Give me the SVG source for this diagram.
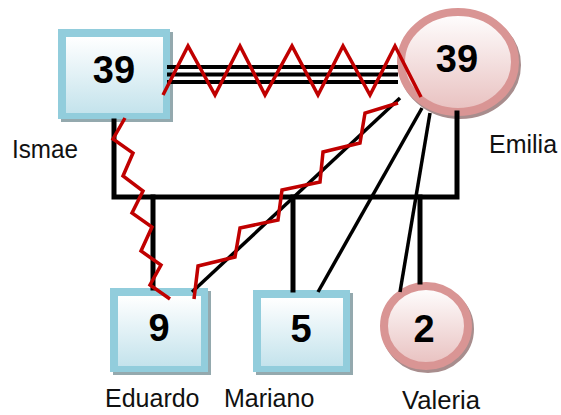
<svg xmlns="http://www.w3.org/2000/svg" width="561" height="415" viewBox="0 0 561 415">
  <defs>
    <linearGradient id="boxFill" x1="0" y1="0" x2="0" y2="1">
      <stop offset="0" stop-color="#ffffff"/>
      <stop offset="1" stop-color="#c4e3ec"/>
    </linearGradient>
    <linearGradient id="ovalFill" x1="0" y1="0" x2="0" y2="1">
      <stop offset="0" stop-color="#ffffff"/>
      <stop offset="1" stop-color="#e8c0bf"/>
    </linearGradient>
  </defs>
  <style>
    .shadow { fill: #94a9ae; }
    .frame { fill: #92cddc; }
    .inner { fill: url(#boxFill); }
    .oshadow { fill: none; stroke: #a88d8d; stroke-width: 8; }
    .oval { fill: url(#ovalFill); stroke: #d99594; stroke-width: 8; }
    .num { font-family: "Liberation Sans", Arial, sans-serif; font-weight: bold; font-size: 38px; text-anchor: middle; fill: #000; }
    .name { font-family: "Liberation Sans", Arial, sans-serif; font-size: 25px; fill: #111; }
    .thick { stroke: #000; stroke-width: 5; fill: none; stroke-linecap: square; }
    .triple { stroke: #000; stroke-width: 4; fill: none; }
    .thin { stroke: #000; stroke-width: 3.5; fill: none; }
    .conflict { stroke: #c00000; stroke-width: 3.5; fill: none; stroke-linejoin: miter; }
  </style>

  <!-- people -->
  <g id="ismae">
    <rect class="shadow" x="61" y="32" width="112" height="90"/>
    <rect class="frame" x="58" y="29" width="112" height="90"/>
    <rect class="inner" x="66" y="37" width="97" height="76"/>
    <text class="num" x="114" y="83">39</text>
    <text class="name" x="12" y="158" font-size="22" textLength="66" lengthAdjust="spacingAndGlyphs">Ismae</text>
  </g>

  <g id="emilia">
    <ellipse class="oshadow" cx="460" cy="65" rx="57" ry="50"/>
    <ellipse class="oval" cx="458" cy="62" rx="57" ry="50"/>
    <text class="num" x="457" y="72">39</text>
    <text class="name" x="489" y="153">Emilia</text>
  </g>

  <g id="eduardo">
    <rect class="shadow" x="113" y="291" width="98" height="84"/>
    <rect class="frame" x="110" y="288" width="98" height="84"/>
    <rect class="inner" x="118" y="296" width="83" height="70"/>
    <text class="num" x="159" y="341">9</text>
    <text class="name" x="105" y="407">Eduardo</text>
  </g>

  <g id="mariano">
    <rect class="shadow" x="256" y="293" width="97" height="82"/>
    <rect class="frame" x="253" y="290" width="97" height="82"/>
    <rect class="inner" x="261" y="298" width="82" height="68"/>
    <text class="num" x="301" y="342">5</text>
    <text class="name" x="224" y="407">Mariano</text>
  </g>

  <g id="valeria">
    <ellipse class="oshadow" cx="428" cy="329" rx="42" ry="40"/>
    <ellipse class="oval" cx="426" cy="326" rx="42" ry="40"/>
    <text class="num" x="424" y="342">2</text>
    <text class="name" x="402" y="409" font-size="24" textLength="78" lengthAdjust="spacingAndGlyphs">Valeria</text>
  </g>

  <!-- relationship lines -->
  <g id="connectors">
    <!-- couple: triple line -->
    <line class="triple" x1="167" y1="67" x2="398" y2="67"/>
    <line class="triple" x1="167" y1="74.5" x2="398" y2="74.5"/>
    <line class="triple" x1="167" y1="82" x2="398" y2="82"/>
    <!-- parent bar and child drops -->
    <polyline class="thick" points="114,121 114,197 457,197 457,113"/>
    <line class="thick" x1="153" y1="197" x2="153" y2="288"/>
    <line class="thick" x1="293" y1="197" x2="293" y2="290"/>
    <line class="thick" x1="420" y1="197" x2="420" y2="282"/>
    <!-- direct lines from Emilia -->
    <line class="thin" x1="400" y1="98" x2="192" y2="292"/>
    <line class="thin" x1="422" y1="108" x2="318" y2="292"/>
    <line class="thin" x1="430" y1="113" x2="400" y2="292"/>
    <!-- conflict zigzags -->
    <polyline class="conflict" points="163,95 188,46 215,95 240,46 265,95 292,46 318,95 343,46 370,95 395,46 421,97"/>
    <polyline class="conflict" points="125,118 113,139 133,153 123,176 143,191 132,213 152,227 141,251 161,265 150,285 170,299"/>
    <polyline class="conflict" points="194,299 198,266 235,257 240,228 278,220 282,190 320,182 323,152 360,143 365,113 398,103"/>
  </g>
</svg>
